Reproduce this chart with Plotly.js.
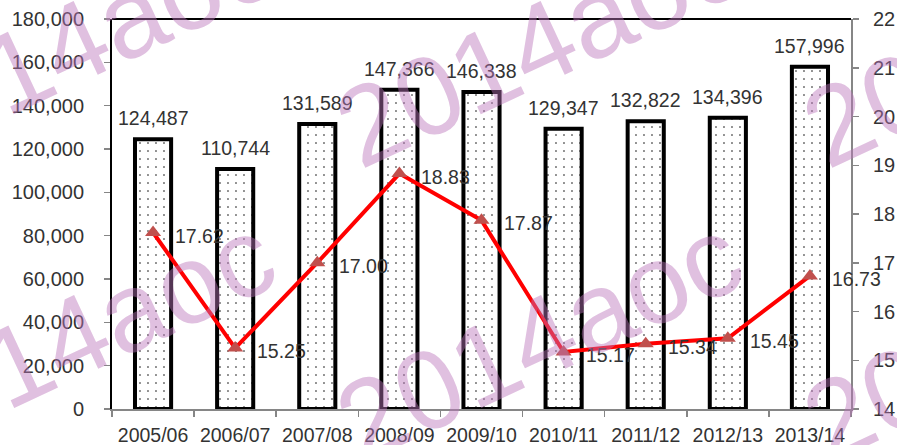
<!DOCTYPE html>
<html>
<head>
<meta charset="utf-8">
<script src="https://cdn.plot.ly/plotly-3.0.1.min.js"></script>
<style>html,body{margin:0;padding:0;background:#fff;}#chart{width:897px;height:445px;}</style>
</head>
<body>
<div id="chart"></div>
<script>
const years = ['2005/06','2006/07','2007/08','2008/09','2009/10','2010/11','2011/12','2012/13','2013/14'];
const barValues = [124487,110744,131589,147366,146338,129347,132822,134396,157996];
const lineValues = [17.62,15.25,17.00,18.83,17.87,15.17,15.34,15.45,16.73];
const leftTicks = [0,20000,40000,60000,80000,100000,120000,140000,160000,180000];
const rightTicks = [14,15,16,17,18,19,20,21,22];
const watermarkText = '2014aoc';

const FONT = 'Liberation Sans, Arial, sans-serif';
const TXT = '#333333';

const fmt = v => v.toLocaleString('en-US');

const bars = {
  type: 'bar', x: years, y: barValues, yaxis: 'y',
  marker: {
    color: '#ffffff',
    line: {color: '#000000', width: 4},
    pattern: {shape: '.', fgcolor: '#000000', bgcolor: '#ffffff', size: 8, solidity: 0.03}
  },
  hoverinfo: 'skip', showlegend: false
};

const line = {
  type: 'scatter', mode: 'lines+markers', x: years, y: lineValues, yaxis: 'y2',
  line: {color: '#ff0000', width: 4},
  marker: {symbol: 'triangle-up', size: 14, color: '#c0504d'},
  hoverinfo: 'skip', showlegend: false
};

const annotations = [];
years.forEach((yr, i) => {
  annotations.push({
    x: yr, y: barValues[i], xref: 'x', yref: 'y', text: fmt(barValues[i]),
    showarrow: false, xanchor: 'center', yanchor: 'bottom', yshift: 8,
    font: {family: FONT, size: 19.5, color: TXT}
  });
  annotations.push({
    x: yr, y: lineValues[i], xref: 'x', yref: 'y2', text: lineValues[i].toFixed(2),
    showarrow: false, xanchor: 'left', yanchor: 'middle', xshift: 20, yshift: -3,
    font: {family: FONT, size: 19.5, color: TXT}
  });
});

// watermark (pixel centres converted to paper coords)
const L = 112, R = 851, T = 19, B = 409;
const wm = [[72,338],[539,338],[1006,338],[72,45],[539,45],[1006,45]];
wm.forEach(p => {
  annotations.push({
    xref: 'paper', yref: 'paper', x: (p[0]-L)/(R-L), y: (B-p[1])/(B-T),
    xanchor: 'center', yanchor: 'middle', text: watermarkText, showarrow: false,
    textangle: -25, opacity: 0.45,
    font: {family: FONT, size: 112, color: 'rgb(187,117,187)'}
  });
});

const layout = {
  width: 897, height: 445,
  margin: {l: L, r: 897-R, t: T, b: 445-B, pad: 0},
  paper_bgcolor: '#ffffff', plot_bgcolor: '#ffffff',
  bargap: 0.56,
  font: {family: FONT, size: 19, color: TXT},
  xaxis: {
    type: 'category', tickson: 'boundaries', ticks: 'outside', ticklen: 6, tickcolor: '#868686', tickwidth: 1.5,
    showline: true, linecolor: '#868686', linewidth: 1.5, showgrid: false, zeroline: false,
    tickfont: {family: FONT, size: 19.5, color: TXT}, ticklabelstandoff: 8,
    range: [-0.5, 8.5]
  },
  yaxis: {
    range: [0, 180000], tickvals: leftTicks, ticktext: leftTicks.map(fmt),
    ticks: 'outside', ticklen: 6, tickcolor: '#868686', tickwidth: 1.5,
    showline: true, linecolor: '#000000', linewidth: 2, showgrid: false, zeroline: false,
    tickfont: {family: FONT, size: 20, color: TXT}, ticklabelstandoff: 16
  },
  yaxis2: {
    overlaying: 'y', side: 'right', range: [14, 22], tickvals: rightTicks,
    ticks: 'outside', ticklen: 6, tickcolor: '#868686', tickwidth: 1.5,
    showline: true, linecolor: '#868686', linewidth: 2, showgrid: false, zeroline: false,
    tickfont: {family: FONT, size: 20, color: TXT}, ticklabelstandoff: 10
  },
  shapes: [{type: 'line', xref: 'paper', yref: 'paper', x0: 0, x1: 1, y0: 1, y1: 1, line: {color: '#000000', width: 2}}],
  annotations: annotations
};

Plotly.newPlot('chart', [bars, line], layout, {staticPlot: true, displayModeBar: false});
</script>
</body>
</html>
